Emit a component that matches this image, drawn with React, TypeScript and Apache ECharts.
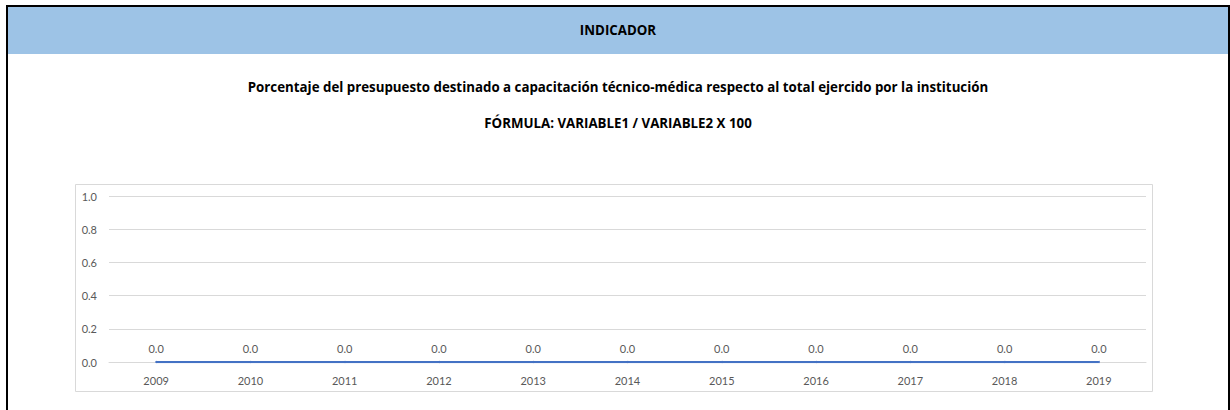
import React, { useEffect, useRef } from "react";
import * as echarts from "echarts";

const headerText = "INDICADOR";
const titleText =
  "Porcentaje del presupuesto destinado a capacitación técnico-médica respecto al total ejercido por la institución";
const formulaText = "FÓRMULA: VARIABLE1 / VARIABLE2 X 100";
const years = ["2009", "2010", "2011", "2012", "2013", "2014", "2015", "2016", "2017", "2018", "2019"];
const values = [0, 0, 0, 0, 0, 0, 0, 0, 0, 0, 0];
const yTicks = [0, 0.2, 0.4, 0.6, 0.8, 1.0];

const FONT = "Lato, 'Open Sans', sans-serif";
const TFONT = "'Open Sans', Lato, sans-serif";

export default function App() {
  const ref = useRef<HTMLDivElement>(null);
  useEffect(() => {
    document.body.style.margin = "0";
    const chart = echarts.init(ref.current!, undefined, { renderer: "svg" });
    chart.setOption({
      animation: false,
      backgroundColor: "#ffffff",
      graphic: [
        { type: "rect", shape: { x: 7, y: 6, width: 1221, height: 48 }, style: { fill: "#9DC3E6" }, z: 0 },
        { type: "rect", shape: { x: 6, y: 5, width: 1224, height: 2 }, style: { fill: "#000" }, z: 10 },
        { type: "rect", shape: { x: 6, y: 5, width: 2, height: 410 }, style: { fill: "#000" }, z: 10 },
        { type: "rect", shape: { x: 1228, y: 5, width: 2, height: 410 }, style: { fill: "#000" }, z: 10 },
        {
          type: "rect",
          shape: { x: 75.5, y: 184.5, width: 1077, height: 207 },
          style: { fill: "none", stroke: "#D9D9D9", lineWidth: 1 },
          z: 1,
        },
        {
          type: "text",
          x: 618,
          y: 30,
          style: { text: headerText, font: `bold 13.3px ${TFONT}`, fill: "#000", align: "center", verticalAlign: "middle" },
          z: 11,
        },
        {
          type: "text",
          x: 618,
          y: 87,
          style: { text: titleText, font: `bold 13.3px ${TFONT}`, fill: "#000", align: "center", verticalAlign: "middle" },
          z: 11,
        },
        {
          type: "text",
          x: 618,
          y: 123,
          style: { text: formulaText, font: `bold 13.3px ${TFONT}`, fill: "#000", align: "center", verticalAlign: "middle" },
          z: 11,
        },
      ],
      grid: { left: 109, right: 1230 - 1146, top: 196, bottom: 410 - 362, containLabel: false },
      xAxis: {
        type: "category",
        data: years,
        boundaryGap: true,
        axisLine: { show: true, lineStyle: { color: "#D9D9D9", width: 1 } },
        axisTick: { show: false },
        axisLabel: { color: "#595959", fontSize: 11, fontFamily: FONT, margin: 13 },
      },
      yAxis: {
        type: "value",
        min: yTicks[0],
        max: yTicks[yTicks.length - 1],
        interval: 0.2,
        axisLine: { show: false },
        axisTick: { show: false },
        splitLine: { lineStyle: { color: "#D9D9D9", width: 1 } },
        axisLabel: {
          color: "#595959",
          fontSize: 11,
          fontFamily: FONT,
          margin: 12,
          formatter: (v: number) => v.toFixed(1),
        },
      },
      series: [
        {
          type: "line",
          data: values,
          symbol: "circle",
          symbolSize: 2,
          showSymbol: true,
          showAllSymbol: true,
          itemStyle: { color: "#4472C4" },
          lineStyle: { color: "#4472C4", width: 2.25 },
          label: {
            show: true,
            position: "top",
            distance: 7,
            color: "#595959",
            fontSize: 11,
            fontFamily: FONT,
            formatter: (p: any) => Number(p.value).toFixed(1),
          },
        },
      ],
    });
    return () => chart.dispose();
  }, []);
  return <div ref={ref} style={{ width: 1230, height: 410 }} />;
}
